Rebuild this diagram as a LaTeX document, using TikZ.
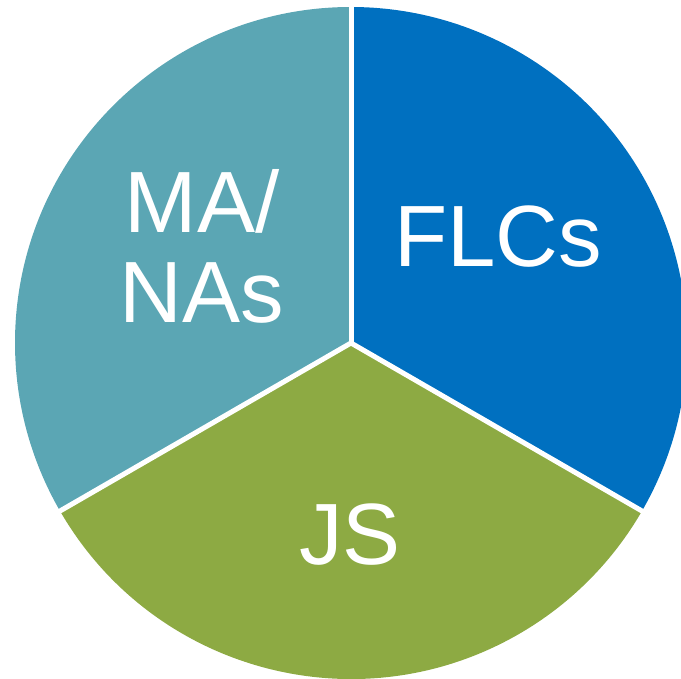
\documentclass[tikz,border=0pt]{standalone}
\usepackage{fontspec}
\setmainfont{Liberation Sans}
\definecolor{tealslice}{HTML}{5BA6B4}
\definecolor{blueslice}{HTML}{0070C0}
\definecolor{greenslice}{HTML}{8DAA43}

\begin{document}
\begin{tikzpicture}[x=1pt,y=1pt,
  lbl/.style = {text=white, inner sep=0pt, font=\fontsize{87}{90}\selectfont},
  sep/.style = {draw=white, line width=5pt, line cap=round}]
\useasboundingbox (0,0) rectangle (681,679);
\coordinate (c) at (351,336);
\fill[tealslice] (c) -- ++(90:336) arc (90:210:336) -- cycle;
\fill[greenslice] (c) -- ++(210:336) arc (210:330:336) -- cycle;
\fill[blueslice] (c) -- ++(-30:336) arc (-30:90:336) -- cycle;
\draw[sep] (c) -- ++(90:340);
\draw[sep] (c) -- ++(210:340);
\draw[sep] (c) -- ++(330:340);
\node[lbl, anchor=base] (ma) at (202,446) {MA/};
\node[lbl, anchor=base] (nas) at (202,356) {NAs};
\node[lbl, anchor=base] (flcs) at (498,412) {FLCs};
\node[lbl, anchor=base] (js) at (350,114) {JS};
\end{tikzpicture}
\end{document}
